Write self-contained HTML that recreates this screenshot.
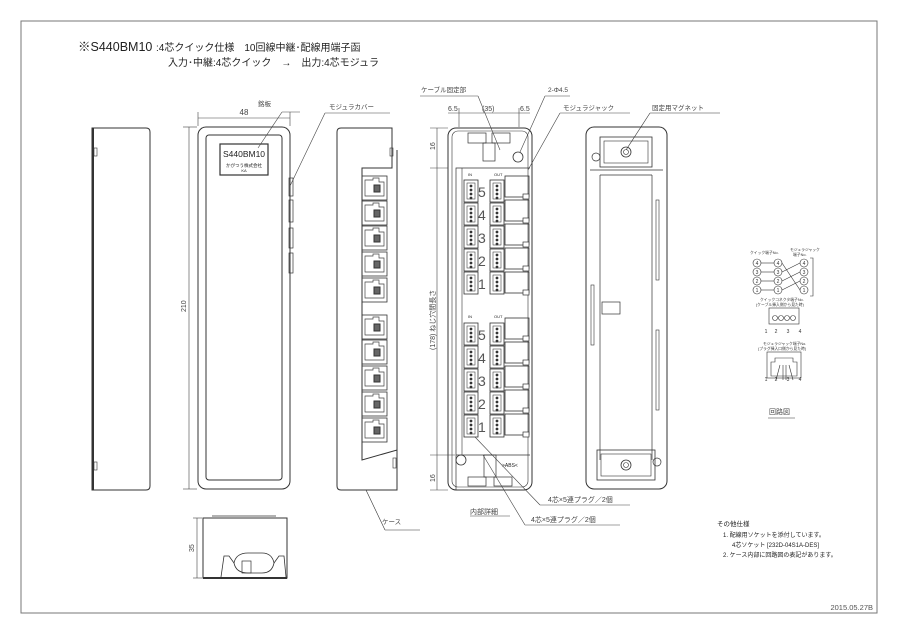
<!DOCTYPE html>
<html><head><meta charset="utf-8"><style>
html,body{margin:0;padding:0;background:#fff;}
svg{display:block;font-family:"Liberation Sans","Noto Sans CJK JP",sans-serif;}
</style></head><body>
<svg width="900" height="636" viewBox="0 0 900 636" xmlns="http://www.w3.org/2000/svg">
<defs>
<g id="jackR">
 <rect x="0" y="0" width="25" height="24" fill="none" stroke="#333" stroke-width="0.8"/>
 <path d="M3 4 h8 v-2 h6 v4 h5 v14 h-19 z" fill="none" stroke="#444" stroke-width="0.7"/>
 <rect x="12" y="9" width="6" height="7" fill="#666"/>
</g>
<g id="qc">
 <rect x="0" y="0" width="14" height="22" fill="none" stroke="#333" stroke-width="0.8"/>
 <rect x="3" y="3" width="8" height="16" fill="none" stroke="#444" stroke-width="0.6"/>
 <circle cx="7" cy="6" r="0.9" fill="#333"/><circle cx="7" cy="10" r="0.9" fill="#333"/><circle cx="7" cy="14" r="0.9" fill="#333"/><circle cx="7" cy="18" r="0.9" fill="#333"/>
</g>
<g id="ijack">
 <rect x="0" y="0" width="24" height="21" fill="none" stroke="#333" stroke-width="0.8"/>
 <rect x="18" y="18" width="6" height="5" fill="#fff" stroke="#333" stroke-width="0.7"/>
</g>
</defs>
<g fill="none" stroke="#333" stroke-width="1">
<rect x="21" y="21" width="856" height="592" stroke="#777"/>

<path d="M92 128 H146 Q150 128 150 132 V486 Q150 490 146 490 H92 Z"/>
<line x1="93" y1="128" x2="93" y2="490" stroke-width="2"/>
<rect x="94" y="148" width="3" height="8" stroke-width="0.6"/>
<rect x="94" y="462" width="3" height="8" stroke-width="0.6"/>

<rect x="198" y="127" width="92" height="362" rx="8"/>
<rect x="206" y="135" width="76" height="345" rx="3"/>
<rect x="220" y="144" width="48" height="31" stroke-width="1.2"/>
<rect x="289" y="178" width="4" height="18" stroke-width="0.7"/>
<rect x="289" y="200" width="4" height="22" stroke-width="0.7"/>
<rect x="289" y="228" width="4" height="20" stroke-width="0.7"/>
<rect x="289" y="253" width="4" height="20" stroke-width="0.7"/>
<g stroke-width="0.6" stroke="#444">
<line x1="198" y1="112" x2="198" y2="126"/><line x1="290" y1="112" x2="290" y2="126"/>
<line x1="198" y1="118" x2="290" y2="118"/>
<line x1="183" y1="127" x2="197" y2="127"/><line x1="183" y1="489" x2="197" y2="489"/>
<line x1="189" y1="127" x2="189" y2="489"/>
<line x1="258" y1="148" x2="282" y2="112"/><line x1="282" y1="112" x2="300" y2="112"/>
<line x1="290" y1="186" x2="325" y2="113"/><line x1="325" y1="113" x2="390" y2="113"/>
</g>

<path d="M337 132 Q337 128 341 128 H392 V168 H362 V460 L397 450 V490 H341 Q337 490 337 486 Z"/>
<line x1="397" y1="150" x2="397" y2="450"/>
<rect x="390" y="148" width="3" height="8" stroke-width="0.6"/>
<rect x="393" y="458" width="3" height="10" stroke-width="0.6"/>
<use href="#jackR" x="362" y="176"/><use href="#jackR" x="362" y="201"/><use href="#jackR" x="362" y="226"/><use href="#jackR" x="362" y="252"/><use href="#jackR" x="362" y="278"/>
<use href="#jackR" x="362" y="315"/><use href="#jackR" x="362" y="340"/><use href="#jackR" x="362" y="366"/><use href="#jackR" x="362" y="392"/><use href="#jackR" x="362" y="418"/>
<line x1="366" y1="490" x2="385" y2="530" stroke-width="0.6"/><line x1="385" y1="530" x2="420" y2="530" stroke-width="0.6"/>

<rect x="203" y="518" width="84" height="60"/>
<line x1="212" y1="516" x2="276" y2="516" stroke-width="0.8"/>
<line x1="203" y1="578" x2="287" y2="578" stroke-width="2"/>
<path d="M221 577 L224 556 L229 556 L234 563 Q236 553 248 553 H262 Q272 553 274 563 L279 556 L284 556 L286 577" stroke-width="0.8"/>
<path d="M234 563 Q236 573 248 573 H262 Q272 573 274 563" stroke-width="0.8"/>
<rect x="242" y="561" width="9" height="12" stroke-width="0.7"/>
<g stroke-width="0.6" stroke="#444"><line x1="193" y1="518" x2="202" y2="518"/><line x1="193" y1="578" x2="202" y2="578"/><line x1="197" y1="518" x2="197" y2="578"/></g>

<rect x="448" y="128" width="84" height="362" rx="8"/>
<rect x="452" y="131" width="76" height="356" rx="6" stroke-width="0.6"/>
<path d="M456 490 V168 H530 M456 168 V455 H530" stroke-width="0.7"/>
<line x1="462" y1="168" x2="462" y2="455" stroke-width="0.6"/>
<rect x="468" y="133" width="18" height="10" stroke-width="0.7"/><rect x="492" y="133" width="18" height="10" stroke-width="0.7"/>
<rect x="483" y="143" width="12" height="18" stroke-width="0.7"/>
<circle cx="518" cy="157" r="5" stroke-width="0.8"/>
<circle cx="461" cy="460" r="5" stroke-width="0.8"/>
<rect x="468" y="477" width="18" height="9" stroke-width="0.7"/><rect x="494" y="477" width="18" height="9" stroke-width="0.7"/>
<rect x="484" y="455" width="12" height="22" stroke-width="0.7"/>
<g stroke-width="0.6" stroke="#444">
<line x1="448" y1="168" x2="430" y2="168"/><line x1="437" y1="128" x2="437" y2="490"/>
<line x1="430" y1="490" x2="448" y2="490"/><line x1="430" y1="128" x2="448" y2="128"/>
<line x1="430" y1="455" x2="455" y2="455"/>
<line x1="448" y1="113" x2="530" y2="113"/>
<line x1="459" y1="108" x2="459" y2="127"/><line x1="519" y1="108" x2="519" y2="127"/>
</g>
<use href="#qc" x="464" y="180"/><use href="#qc" x="464" y="203"/><use href="#qc" x="464" y="226"/><use href="#qc" x="464" y="249"/><use href="#qc" x="464" y="272"/>
<use href="#qc" x="490" y="180"/><use href="#qc" x="490" y="203"/><use href="#qc" x="490" y="226"/><use href="#qc" x="490" y="249"/><use href="#qc" x="490" y="272"/>
<use href="#qc" x="464" y="323"/><use href="#qc" x="464" y="346"/><use href="#qc" x="464" y="369"/><use href="#qc" x="464" y="392"/><use href="#qc" x="464" y="415"/>
<use href="#qc" x="490" y="323"/><use href="#qc" x="490" y="346"/><use href="#qc" x="490" y="369"/><use href="#qc" x="490" y="392"/><use href="#qc" x="490" y="415"/>
<use href="#ijack" x="505" y="176"/><use href="#ijack" x="505" y="200"/><use href="#ijack" x="505" y="224"/><use href="#ijack" x="505" y="248"/><use href="#ijack" x="505" y="272"/>
<use href="#ijack" x="505" y="318"/><use href="#ijack" x="505" y="342"/><use href="#ijack" x="505" y="366"/><use href="#ijack" x="505" y="390"/><use href="#ijack" x="505" y="414"/>
<g stroke-width="0.6" stroke="#444">
<line x1="478" y1="96" x2="500" y2="150"/><line x1="420" y1="96" x2="478" y2="96"/>
<line x1="520" y1="152" x2="545" y2="96"/><line x1="545" y1="96" x2="570" y2="96"/>
<line x1="528" y1="170" x2="560" y2="113"/><line x1="560" y1="113" x2="630" y2="113"/>
<line x1="475" y1="437" x2="540" y2="505"/><line x1="540" y1="505" x2="630" y2="505"/>
<line x1="483" y1="455" x2="525" y2="525"/><line x1="525" y1="525" x2="620" y2="525"/>
<line x1="470" y1="516" x2="510" y2="516"/>
</g>

<rect x="586" y="127" width="81" height="362" rx="8"/>
<rect x="600" y="137" width="52" height="30" stroke-width="0.8"/><rect x="604" y="141" width="44" height="22" stroke-width="0.6"/>
<circle cx="626" cy="152" r="5" stroke-width="0.8"/><circle cx="626" cy="152" r="2.5" stroke-width="0.6"/>
<path d="M590 170 H663 M600 175 H652 M600 175 V460 M652 175 V460" stroke-width="0.7"/>
<rect x="597" y="450" width="58" height="30" stroke-width="0.8"/><rect x="601" y="454" width="50" height="22" stroke-width="0.6"/>
<circle cx="626" cy="465" r="5" stroke-width="0.8"/><circle cx="626" cy="465" r="2.5" stroke-width="0.6"/>
<circle cx="657" cy="462" r="4" stroke-width="0.7"/><circle cx="596" cy="157" r="4" stroke-width="0.7"/>
<rect x="591" y="285" width="3" height="60" stroke-width="0.6"/><rect x="656" y="200" width="3" height="80" stroke-width="0.6"/><rect x="656" y="330" width="3" height="80" stroke-width="0.6"/>
<rect x="602" y="302" width="18" height="12" stroke-width="0.7"/>
<line x1="626" y1="150" x2="650" y2="113" stroke-width="0.6"/><line x1="650" y1="113" x2="720" y2="113" stroke-width="0.6"/>

<g stroke-width="0.6" stroke="#333">
<circle cx="757" cy="263" r="4"/><circle cx="757" cy="272" r="4"/><circle cx="757" cy="281" r="4"/><circle cx="757" cy="290" r="4"/>
<circle cx="778" cy="263" r="4"/><circle cx="778" cy="272" r="4"/><circle cx="778" cy="281" r="4"/><circle cx="778" cy="290" r="4"/>
<circle cx="804" cy="263" r="4"/><circle cx="804" cy="272" r="4"/><circle cx="804" cy="281" r="4"/><circle cx="804" cy="290" r="4"/>
<line x1="761" y1="263" x2="774" y2="263"/><line x1="761" y1="272" x2="774" y2="272"/><line x1="761" y1="281" x2="774" y2="281"/><line x1="761" y1="290" x2="774" y2="290"/>
<line x1="782" y1="263" x2="800" y2="290"/><line x1="782" y1="272" x2="800" y2="263"/><line x1="782" y1="281" x2="800" y2="272"/><line x1="782" y1="290" x2="800" y2="281"/>
<path d="M810 258 H813 V296 H810"/>
<rect x="769" y="308" width="30" height="16"/>
<circle cx="775" cy="318" r="2.5"/><circle cx="781" cy="318" r="2.5"/><circle cx="787" cy="318" r="2.5"/><circle cx="793" cy="318" r="2.5"/>
<rect x="767" y="352" width="34" height="26"/><path d="M771 362 h4 v-4 h18 v4 h4 v14 h-26 z"/>
<line x1="780" y1="365" x2="776" y2="380"/><line x1="783" y1="365" x2="783" y2="380"/><line x1="786" y1="365" x2="786" y2="380"/><line x1="789" y1="365" x2="793" y2="380"/>
<line x1="768" y1="418" x2="795" y2="418"/>
</g>
</g>

<g fill="#222" stroke="none">
<text x="78" y="51" font-size="12.5">※S440BM10</text>
<text x="156" y="51" font-size="10">:4芯クイック仕様　10回線中継･配線用端子函</text>
<text x="168" y="66" font-size="10">入力･中継:4芯クイック　→　出力:4芯モジュラ</text>
<text x="244" y="115" font-size="8" text-anchor="middle" fill="#444">48</text>
<text x="244" y="157" font-size="8.5" text-anchor="middle">S440BM10</text>
<text x="244" y="167" font-size="4.5" text-anchor="middle">かがつう株式会社</text>
<text x="244" y="172" font-size="4" text-anchor="middle">KA</text>
<text x="258" y="106" font-size="6.5" fill="#444">銘板</text>
<text x="329" y="109" font-size="6.5" fill="#444">モジュラカバー</text>
<text transform="translate(186,312) rotate(-90)" font-size="7" fill="#444">210</text>
<text transform="translate(194,552) rotate(-90)" font-size="7" fill="#444">35</text>
<text x="382" y="524" font-size="6.5" fill="#444">ケース</text>
<text x="421" y="92" font-size="6.5" fill="#444">ケーブル固定部</text>
<text x="548" y="92" font-size="6.5" fill="#444">2-Φ4.5</text>
<text x="563" y="110" font-size="6.5" fill="#444">モジュラジャック</text>
<text x="652" y="110" font-size="6.5" fill="#444">固定用マグネット</text>
<text x="448" y="111" font-size="7" fill="#444">6.5</text>
<text x="482" y="111" font-size="7" fill="#444">(35)</text>
<text x="520" y="111" font-size="7" fill="#444">6.5</text>
<text transform="translate(435,150) rotate(-90)" font-size="7" fill="#444">16</text>
<text transform="translate(435,482) rotate(-90)" font-size="7" fill="#444">16</text>
<text transform="translate(435,350) rotate(-90)" font-size="7" fill="#444">(178)  ねじ穴間長さ</text>
<g font-size="14" fill="#555">
<text x="478" y="197">5</text><text x="478" y="220">4</text><text x="478" y="243">3</text><text x="478" y="266">2</text><text x="478" y="289">1</text>
<text x="478" y="340">5</text><text x="478" y="363">4</text><text x="478" y="386">3</text><text x="478" y="409">2</text><text x="478" y="432">1</text>
</g>
<text x="468" y="176" font-size="4">IN</text><text x="494" y="176" font-size="4">OUT</text>
<text x="468" y="318" font-size="4">IN</text><text x="494" y="318" font-size="4">OUT</text>
<text x="502" y="467" font-size="5">&gt;ABS&lt;</text>
<text x="548" y="502" font-size="7" fill="#444">4芯×5連プラグ／2個</text>
<text x="531" y="522" font-size="7" fill="#444">4芯×5連プラグ／2個</text>
<text x="470" y="514" font-size="7" fill="#444">内部詳細</text>
<g font-size="3.8" fill="#333">
<text x="750" y="254">クイック端子No.</text><text x="790" y="251">モジュラジャック</text><text x="793" y="256">端子No.</text>
<text x="760" y="301">クイックコネクタ端子No.</text><text x="756" y="306">(ケーブル挿入側から見た時)</text>
<text x="763" y="345">モジュラジャック端子No.</text><text x="758" y="350">(プラグ挿入口側から見た時)</text>
</g>
<g font-size="5" fill="#333" text-anchor="middle">
<text x="757" y="265">4</text><text x="757" y="274">3</text><text x="757" y="283">2</text><text x="757" y="292">1</text>
<text x="778" y="265">4</text><text x="778" y="274">3</text><text x="778" y="283">2</text><text x="778" y="292">1</text>
<text x="804" y="265">4</text><text x="804" y="274">3</text><text x="804" y="283">2</text><text x="804" y="292">1</text>
<text x="766" y="333">1</text><text x="776" y="333">2</text><text x="788" y="333">3</text><text x="800" y="333">4</text>
<text x="766" y="381">1</text><text x="776" y="381">2</text><text x="788" y="381">3</text><text x="800" y="381">4</text>
</g>
<text x="769" y="414" font-size="7" fill="#444">回路図</text>
<text x="717" y="526" font-size="6.5">その他仕様</text>
<text x="723" y="537" font-size="6">1. 配線用ソケットを添付しています。</text>
<text x="732" y="547" font-size="6">4芯ソケット [232D-04S1A-DES]</text>
<text x="723" y="557" font-size="6">2. ケース内部に回路図の表記があります。</text>
<text x="873" y="610" font-size="7.5" fill="#555" text-anchor="end">2015.05.27B</text>
</g>
</svg>
</body></html>
